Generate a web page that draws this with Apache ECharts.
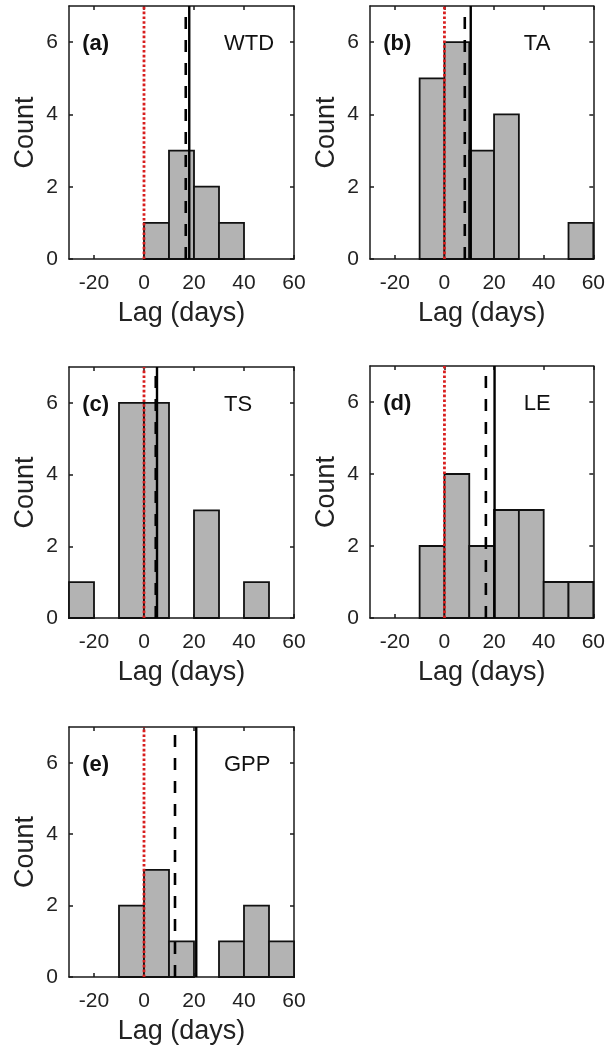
<!DOCTYPE html>
<html>
<head>
<meta charset="utf-8">
<script src="https://cdn.jsdelivr.net/npm/echarts@6/dist/echarts.min.js"></script>
<style>
html,body{margin:0;padding:0;background:#fff;}
#chart{width:608px;height:1048px;}
</style>
</head>
<body>
<div id="chart"></div>
<script>
// ---- data ----
const binEdges = [-30, -20, -10, 0, 10, 20, 30, 40, 50, 60];
const panelLabels = ['(a)', '(b)', '(c)', '(d)', '(e)'];
const variableNames = ['WTD', 'TA', 'TS', 'LE', 'GPP'];
const countsWTD = [0, 0, 0, 1, 3, 2, 1, 0, 0];
const countsTA  = [0, 0, 5, 6, 3, 4, 0, 0, 1];
const countsTS  = [1, 0, 6, 6, 0, 3, 0, 1, 0];
const countsLE  = [0, 0, 2, 4, 2, 3, 3, 1, 1];
const countsGPP = [0, 0, 2, 3, 1, 0, 1, 2, 1];
const meanLag   = [16.7, 8.2, 4.7, 16.7, 12.4];   // dashed lines
const medianLag = [18.1, 10.6, 5.2, 20.2, 20.9];  // solid lines
const zeroLag = 0;                                // red dotted line
const xTicks = [-20, 0, 20, 40, 60];
const yTicks = [0, 2, 4, 6];
const xRange = [-30, 60];
const yRange = [0, 7];

const allCounts = [countsWTD, countsTA, countsTS, countsLE, countsGPP];

// ---- layout ----
const grids = [
  {left: 69,  top: 6,   width: 225, height: 253},
  {left: 370, top: 6,   width: 224, height: 253},
  {left: 69,  top: 367, width: 225, height: 251},
  {left: 370, top: 366, width: 224, height: 252},
  {left: 69,  top: 727, width: 225, height: 250}
];
const FONT = "'Liberation Sans', Arial, sans-serif";
const TXT = '#222';
const AX = '#1a1a1a';

const xAxes = [], yAxes = [], series = [];
grids.forEach((g, i) => {
  xAxes.push({
    type: 'value', gridIndex: i, min: xRange[0], max: xRange[1], position: 'bottom',
    name: 'Lag (days)', nameLocation: 'middle', nameGap: 41,
    nameTextStyle: {fontFamily: FONT, fontSize: 27, color: TXT},
    axisLine: {show: true, onZero: false, lineStyle: {color: AX, width: 1.5}},
    axisTick: {show: true, inside: true, length: 4, customValues: xTicks, lineStyle: {color: AX, width: 1.5}},
    axisLabel: {show: true, customValues: xTicks, margin: 14, fontFamily: FONT, fontSize: 21, color: TXT},
    splitLine: {show: false}
  });
  xAxes.push({
    type: 'value', gridIndex: i, min: xRange[0], max: xRange[1], position: 'top',
    axisLine: {show: true, onZero: false, lineStyle: {color: AX, width: 1.5}},
    axisTick: {show: true, inside: true, length: 4, customValues: xTicks, lineStyle: {color: AX, width: 1.5}},
    axisLabel: {show: false},
    splitLine: {show: false}
  });
  yAxes.push({
    type: 'value', gridIndex: i, min: yRange[0], max: yRange[1], position: 'left',
    name: 'Count', nameLocation: 'middle', nameGap: 30,
    nameTextStyle: {fontFamily: FONT, fontSize: 27, color: TXT},
    axisLine: {show: true, onZero: false, lineStyle: {color: AX, width: 1.5}},
    axisTick: {show: true, inside: true, length: 4, customValues: yTicks, lineStyle: {color: AX, width: 1.5}},
    axisLabel: {show: true, customValues: yTicks, margin: 11, fontFamily: FONT, fontSize: 21, color: TXT},
    splitLine: {show: false}
  });
  yAxes.push({
    type: 'value', gridIndex: i, min: yRange[0], max: yRange[1], position: 'right',
    axisLine: {show: true, onZero: false, lineStyle: {color: AX, width: 1.5}},
    axisTick: {show: true, inside: true, length: 4, customValues: yTicks, lineStyle: {color: AX, width: 1.5}},
    axisLabel: {show: false},
    splitLine: {show: false}
  });

  const xi = i * 2, yi = i * 2;
  const hist = allCounts[i].map((c, k) => [binEdges[k], binEdges[k + 1], c]).filter(d => d[2] > 0);
  series.push({
    type: 'custom', xAxisIndex: xi, yAxisIndex: yi, z: 2,
    data: hist,
    encode: {x: [0, 1], y: 2},
    renderItem: function (params, api) {
      const p0 = api.coord([api.value(0), api.value(2)]);
      const p1 = api.coord([api.value(1), 0]);
      return {
        type: 'rect',
        shape: {x: p0[0], y: p0[1], width: p1[0] - p0[0], height: p1[1] - p0[1]},
        style: {fill: '#b3b3b3', stroke: '#111', lineWidth: 1.8}
      };
    },
    silent: true
  });
  series.push({
    type: 'line', xAxisIndex: xi, yAxisIndex: yi, z: 4, symbol: 'none', silent: true,
    data: [[meanLag[i], yRange[0]], [meanLag[i], yRange[1]]],
    lineStyle: {color: '#000', width: 2.6, type: [12, 11]}
  });
  series.push({
    type: 'line', xAxisIndex: xi, yAxisIndex: yi, z: 4, symbol: 'none', silent: true,
    data: [[medianLag[i], yRange[0]], [medianLag[i], yRange[1]]],
    lineStyle: {color: '#000', width: 2.4, type: 'solid'}
  });
  series.push({
    type: 'line', xAxisIndex: xi, yAxisIndex: yi, z: 5, symbol: 'none', silent: true,
    data: [[zeroLag, yRange[0]], [zeroLag, yRange[1]]],
    lineStyle: {color: '#d81e1e', width: 2.8, type: [2.6, 2.2]}
  });
});

const chart = echarts.init(document.getElementById('chart'), null, {renderer: 'canvas'});
chart.setOption({
  animation: false,
  backgroundColor: '#fff',
  grid: grids.map(g => Object.assign({containLabel: false}, g)),
  xAxis: xAxes,
  yAxis: yAxes,
  series: series
});

const graphics = [];
grids.forEach((g, i) => {
  const pL = chart.convertToPixel({xAxisIndex: i * 2, yAxisIndex: i * 2}, [-24.7, 6]);
  const pR = chart.convertToPixel({xAxisIndex: i * 2, yAxisIndex: i * 2}, [32, 6]);
  graphics.push({
    type: 'text', x: pL[0], y: pL[1] + 2, z: 10,
    style: {text: panelLabels[i], fontFamily: FONT, fontSize: 22, fontWeight: 'bold', fill: '#111',
            textAlign: 'left', textVerticalAlign: 'middle'}
  });
  graphics.push({
    type: 'text', x: pR[0], y: pR[1] + 2, z: 10,
    style: {text: variableNames[i], fontFamily: FONT, fontSize: 22, fill: '#111',
            textAlign: 'left', textVerticalAlign: 'middle'}
  });
});
chart.setOption({graphic: graphics});
</script>
</body>
</html>
